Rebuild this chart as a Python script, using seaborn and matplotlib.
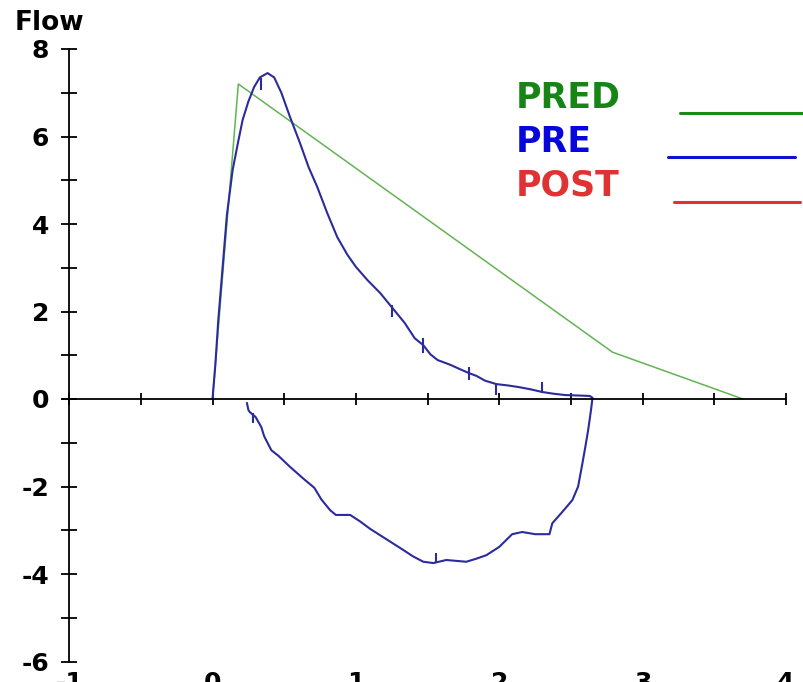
import matplotlib
matplotlib.use("Agg")
import matplotlib.pyplot as plt
from matplotlib.lines import Line2D
from matplotlib.ticker import MultipleLocator, FixedLocator
import numpy as np
import pandas as pd
import seaborn as sns

# ---------------- data ----------------
pred_volume = [0.0, 0.18, 2.79, 3.70]
pred_flow = [0.0, 7.2, 1.07, 0.0]

pre_exp_volume = [0.0, 0.02, 0.04, 0.07, 0.10, 0.14, 0.18, 0.21, 0.25, 0.29, 0.33, 0.384,
                  0.43, 0.48, 0.54, 0.61, 0.67, 0.73, 0.80, 0.87, 0.94, 1.00, 1.08, 1.17,
                  1.25, 1.34, 1.41, 1.47, 1.52, 1.57, 1.66, 1.72, 1.79, 1.84, 1.90, 1.98,
                  2.06, 2.14, 2.22, 2.30, 2.38, 2.46, 2.55, 2.63, 2.65]
pre_exp_flow = [0.0, 0.8, 1.8, 3.0, 4.2, 5.23, 5.9, 6.38, 6.8, 7.13, 7.35, 7.45,
                7.35, 7.0, 6.45, 5.85, 5.3, 4.85, 4.25, 3.70, 3.3, 3.02, 2.72, 2.42,
                2.1, 1.74, 1.39, 1.23, 1.02, 0.89, 0.78, 0.69, 0.59, 0.53, 0.42, 0.34,
                0.31, 0.27, 0.22, 0.16, 0.12, 0.09, 0.08, 0.07, 0.03]

pre_insp_volume = [2.65, 2.64, 2.62, 2.60, 2.58, 2.55, 2.51, 2.44, 2.37, 2.35, 2.25, 2.16,
                   2.09, 2.00, 1.91, 1.84, 1.77, 1.70, 1.63, 1.54, 1.47, 1.40, 1.33, 1.22,
                   1.10, 1.03, 0.96, 0.86, 0.82, 0.76, 0.71, 0.63, 0.54, 0.46, 0.41, 0.36,
                   0.34, 0.30, 0.26, 0.25, 0.24]
pre_insp_flow = [0.02, -0.25, -0.71, -1.1, -1.47, -2.0, -2.31, -2.58, -2.84, -3.09, -3.09, -3.04,
                 -3.09, -3.38, -3.57, -3.65, -3.72, -3.70, -3.68, -3.75, -3.72, -3.6, -3.45, -3.22,
                 -2.97, -2.8, -2.65, -2.65, -2.54, -2.3, -2.03, -1.81, -1.55, -1.3, -1.17, -0.85,
                 -0.64, -0.41, -0.3, -0.25, -0.09]

# timing marks on the PRE curve
mark_volume = [0.335, 1.25, 1.47, 1.79, 1.98, 2.30, 0.28, 1.56]
mark_top = [7.34, 2.15, 1.40, 0.73, 0.37, 0.39, -0.32, -3.52]
mark_bottom = [7.06, 1.87, 1.05, 0.43, 0.09, 0.14, -0.55, -3.75]

y_ticks_major = [-6, -4, -2, 0, 2, 4, 6, 8]
x_tick_labels = ["-1", "0", "1", "2", "3", "4"]
legend_labels = ["PRED", "PRE", "POST"]

# ---------------- figure ----------------
sns.set_theme(style="white")
plt.rcParams["font.family"] = ["DejaVu Sans"]
plt.rcParams["axes.unicode_minus"] = False

fig = plt.figure(figsize=(8.04, 6.82), dpi=100)
ax = fig.add_axes([62 / 804, 1 - 661.5 / 682, 724 / 804, 612.5 / 682])
ax.set_facecolor("white")

pred_df = pd.DataFrame({"volume": pred_volume, "flow": pred_flow})
pre_df = pd.DataFrame({"volume": pre_exp_volume + pre_insp_volume,
                       "flow": pre_exp_flow + pre_insp_flow})

sns.lineplot(data=pred_df, x="volume", y="flow", sort=False, estimator=None,
             color="#62b452", linewidth=1.1, ax=ax)
sns.lineplot(data=pre_df, x="volume", y="flow", sort=False, estimator=None,
             color="#2b2b9e", linewidth=1.5, ax=ax)
ax.vlines(mark_volume, mark_bottom, mark_top, color="#2b2b9e", linewidth=1.5)

ax.set_xlim(-1.05, 4.0)
ax.set_ylim(-6, 8)
ax.set_xlabel("")
ax.set_ylabel("")

# spines: y-axis at volume -1, x-axis at flow 0
for s in ["top", "right"]:
    ax.spines[s].set_visible(False)
ax.spines["left"].set_position(("data", -1))
ax.spines["bottom"].set_position(("data", 0))
for s in ["left", "bottom"]:
    ax.spines[s].set_color("black")
    ax.spines[s].set_linewidth(1.3)
    ax.spines[s].set_visible(True)

ax.yaxis.set_major_locator(FixedLocator(y_ticks_major))
ax.yaxis.set_minor_locator(MultipleLocator(1))
ax.tick_params(axis="y", which="both", direction="inout", length=11.5, width=1.3,
               color="black", left=True)
ax.tick_params(axis="y", which="major", labelsize=18, pad=8.6, labelcolor="black")
for t in ax.get_yticklabels():
    t.set_fontweight("bold")

ax.xaxis.set_major_locator(MultipleLocator(0.5))
ax.tick_params(axis="x", which="both", direction="inout", length=8, width=1.3,
               color="black", bottom=True, labelbottom=False)

sec = ax.secondary_xaxis(0)
sec.set_xticks([-1, 0, 1, 2, 3, 4])
sec.set_xticklabels(x_tick_labels, fontsize=18, fontweight="bold", color="black")
sec.tick_params(length=0, pad=7)
sec.spines["bottom"].set_visible(False)

# title-like axis label
fig.text(15 / 804, 1 - 30 / 682, "Flow", fontsize=19, fontweight="bold",
         color="black", va="baseline", ha="left")

# custom legend: text then coloured line
leg_text_colors = ["#168516", "#0606dc", "#e03232"]
leg_line_colors = ["#1a8a1a", "#1010d0", "#e03232"]
leg_baselines = [108, 152, 196]
leg_lines = [(680, 803, 113), (668, 795, 157), (674, 800, 202)]
for lab, tc, lc, yb, (x0, x1, yl) in zip(legend_labels, leg_text_colors, leg_line_colors,
                                          leg_baselines, leg_lines):
    fig.text(516 / 804, 1 - yb / 682, lab, fontsize=25, fontweight="bold",
             color=tc, va="baseline", ha="left")
    fig.add_artist(Line2D([x0 / 804, x1 / 804], [1 - yl / 682, 1 - yl / 682],
                          color=lc, linewidth=2.2, transform=fig.transFigure))

fig.savefig("out.png", dpi=100, facecolor="white")
